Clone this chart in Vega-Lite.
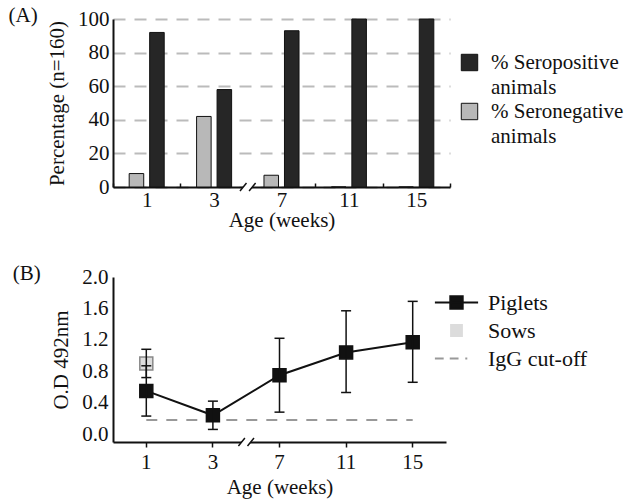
{
  "$schema": "https://vega.github.io/schema/vega-lite/v6.json",
  "background": "white",
  "padding": {"left": 8, "top": 5, "right": 0, "bottom": 5},
  "spacing": 33,
  "resolve": {"scale": {"color": "independent", "x": "independent", "y": "independent"}, "legend": {"color": "independent"}},
  "config": {
    "font": "Liberation Serif",
    "view": {"stroke": null},
    "axis": {
      "labelFont": "Liberation Serif", "titleFont": "Liberation Serif",
      "labelFontSize": 21, "titleFontSize": 21, "titleFontWeight": "normal",
      "labelColor": "#111", "titleColor": "#111",
      "domainColor": "#111", "domainWidth": 2, "tickColor": "#111", "tickWidth": 1.5
    },
    "legend": {"labelFont": "Liberation Serif", "labelFontSize": 21, "labelColor": "#111"},
    "title": {"font": "Liberation Serif", "fontSize": 21, "fontWeight": "normal", "anchor": "start", "frame": "bounds", "color": "#111"}
  },
  "vconcat": [
    {
      "title": {"text": "(A)", "dx": -38, "dy": 18, "offset": 0},
      "width": 337,
      "height": 168,
      "data": {"values": [
        {"age": "1", "group": "% Seropositive animals", "pct": 92},
        {"age": "1", "group": "% Seronegative animals", "pct": 8},
        {"age": "3", "group": "% Seropositive animals", "pct": 58},
        {"age": "3", "group": "% Seronegative animals", "pct": 42},
        {"age": "7", "group": "% Seropositive animals", "pct": 93},
        {"age": "7", "group": "% Seronegative animals", "pct": 7},
        {"age": "11", "group": "% Seropositive animals", "pct": 100},
        {"age": "11", "group": "% Seronegative animals", "pct": 0},
        {"age": "15", "group": "% Seropositive animals", "pct": 100},
        {"age": "15", "group": "% Seronegative animals", "pct": 0}
      ]},
      "layer": [
        {
          "mark": {"type": "bar", "stroke": "#111", "strokeWidth": 1},
          "encoding": {
            "x": {"field": "age", "type": "ordinal", "sort": ["1", "3", "7", "11", "15"],
              "scale": {"paddingInner": 0, "paddingOuter": 0},
              "axis": {"title": "Age (weeks)", "labelAngle": 0, "tickBand": "extent", "tickSize": -4, "labelPadding": 6, "titlePadding": -1}},
            "xOffset": {"field": "group", "sort": ["% Seronegative animals", "% Seropositive animals"],
              "scale": {"paddingInner": 0.29, "paddingOuter": 0.79}},
            "y": {"field": "pct", "type": "quantitative", "scale": {"domain": [0, 100]},
              "axis": {"title": "Percentage (n=160)", "values": [0, 20, 40, 60, 80, 100], "grid": true, "gridDash": [12, 9], "gridColor": "#bbbbbb", "gridWidth": 2, "ticks": false, "labelPadding": 4, "titlePadding": 10}},
            "color": {"field": "group", "type": "nominal",
              "scale": {"domain": ["% Seropositive animals", "% Seronegative animals"], "range": ["#262626", "#b8b8b8"]},
              "legend": {"orient": "none", "legendX": 346, "legendY": 33, "title": null, "symbolType": "square", "symbolSize": 270,
                "symbolStrokeColor": "#111", "symbolStrokeWidth": 1, "labelOffset": 11, "labelBaseline": "top", "rowPadding": 2, "labelLimit": 300,
                "labelFont": "Liberation Serif", "labelFontSize": 21,
                "labelExpr": "datum.value == '% Seropositive animals' ? ['% Seropositive', ' animals'] : ['% Seronegative', 'animals']",
                "encode": {"labels": {"update": {"font": {"value": "Liberation Serif"}, "dy": {"value": -11}, "lineHeight": {"value": 25}}}}}}
          }
        },
        {
          "data": {"values": [{"age": "3"}]},
          "mark": {"type": "point", "filled": true, "fill": "white", "strokeWidth": 0, "opacity": 1, "size": 676,
            "shape": "M-0.6,0.3L-0.1,-0.3L0.6,-0.3L0.1,0.3Z"},
          "encoding": {"x": {"field": "age", "type": "ordinal", "sort": ["1", "3", "7", "11", "15"], "bandPosition": 1}, "y": {"value": "height"}}
        },
        {
          "data": {"values": [{"age": "3"}]},
          "mark": {"type": "point", "filled": false, "stroke": "#111", "strokeWidth": 1.5, "opacity": 1, "size": 676,
            "shape": "M-0.6,0.3L-0.1,-0.3M0.1,0.3L0.6,-0.3"},
          "encoding": {"x": {"field": "age", "type": "ordinal", "sort": ["1", "3", "7", "11", "15"], "bandPosition": 1}, "y": {"value": "height"}}
        }
      ]
    },
    {
      "title": {"text": "(B)", "dx": -38, "dy": 18, "offset": 0},
      "width": 333,
      "height": 165,
      "layer": [
        {
          "data": {"values": [
            {"age": "1", "series": "IgG cut-off", "od": 0.18},
            {"age": "15", "series": "IgG cut-off", "od": 0.18}
          ]},
          "mark": {"type": "line", "strokeDash": [11, 9], "strokeWidth": 2},
          "encoding": {
            "x": {"field": "age", "type": "ordinal", "sort": ["1", "3", "7", "11", "15"]},
            "y": {"field": "od", "type": "quantitative"},
            "color": {"field": "series", "type": "nominal"}
          }
        },
        {
          "data": {"name": "od"},
          "transform": [{"filter": "datum.series === 'Piglets'"}],
          "mark": {"type": "line", "color": "#111", "strokeWidth": 2},
          "encoding": {
            "x": {"field": "age", "type": "ordinal", "sort": ["1", "3", "7", "11", "15"]},
            "y": {"field": "od", "type": "quantitative"}
          }
        },
        {
          "data": {"name": "od"},
          "mark": {"type": "point", "shape": "square", "filled": true, "size": 169, "opacity": 1, "strokeWidth": 1.5},
          "encoding": {
            "x": {"field": "age", "type": "ordinal", "sort": ["1", "3", "7", "11", "15"]},
            "y": {"field": "od", "type": "quantitative"},
            "color": {"field": "series", "type": "nominal"},
            "stroke": {"condition": {"test": "datum.series === 'Sows'", "value": "#888"}, "value": "#111"}
          }
        },
        {
          "data": {"name": "od"},
          "mark": {"type": "rule", "color": "#111", "strokeWidth": 1.5},
          "encoding": {
            "x": {"field": "age", "type": "ordinal", "sort": ["1", "3", "7", "11", "15"]},
            "y": {"field": "lo", "type": "quantitative"},
            "y2": {"field": "hi"}
          }
        },
        {
          "data": {"name": "od"},
          "mark": {"type": "tick", "color": "#111", "thickness": 1.5, "size": 10, "orient": "horizontal", "opacity": 1},
          "encoding": {
            "x": {"field": "age", "type": "ordinal", "sort": ["1", "3", "7", "11", "15"]},
            "y": {"field": "lo", "type": "quantitative"}
          }
        },
        {
          "data": {"name": "od"},
          "mark": {"type": "tick", "color": "#111", "thickness": 1.5, "size": 10, "orient": "horizontal", "opacity": 1},
          "encoding": {
            "x": {"field": "age", "type": "ordinal", "sort": ["1", "3", "7", "11", "15"]},
            "y": {"field": "hi", "type": "quantitative"}
          }
        },
        {
          "data": {"values": [{"age": "3"}]},
          "mark": {"type": "point", "filled": true, "fill": "white", "strokeWidth": 0, "opacity": 1, "size": 676,
            "shape": "M-0.6,0.3L-0.1,-0.3L0.6,-0.3L0.1,0.3Z"},
          "encoding": {"x": {"field": "age", "type": "ordinal", "sort": ["1", "3", "7", "11", "15"], "bandPosition": 1}, "y": {"value": "height"}}
        },
        {
          "data": {"values": [{"age": "3"}]},
          "mark": {"type": "point", "filled": false, "stroke": "#111", "strokeWidth": 1.5, "opacity": 1, "size": 676,
            "shape": "M-0.6,0.3L-0.1,-0.3M0.1,0.3L0.6,-0.3"},
          "encoding": {"x": {"field": "age", "type": "ordinal", "sort": ["1", "3", "7", "11", "15"], "bandPosition": 1}, "y": {"value": "height"}}
        }
      ],
      "encoding": {
        "x": {"field": "age", "type": "ordinal", "sort": ["1", "3", "7", "11", "15"],
          "scale": {"paddingInner": 0, "paddingOuter": 0},
          "axis": {"title": "Age (weeks)", "labelAngle": 0, "tickSize": 5, "labelPadding": 4, "titlePadding": 4}},
        "y": {"type": "quantitative",
          "scale": {"domain": [-0.1, 2.0], "nice": false, "zero": false},
          "axis": {"title": "O.D 492nm", "values": [0, 0.4, 0.8, 1.2, 1.6, 2.0], "format": ".1f", "grid": false, "ticks": false, "labelPadding": 5, "titlePadding": 10}},
        "color": {"type": "nominal",
          "scale": {"domain": ["Piglets", "Sows", "IgG cut-off"], "range": ["#111111", "#dcdcdc", "#999999"]},
          "legend": {"orient": "none", "legendX": 329, "legendY": 11, "title": null, "symbolSize": 729, "labelOffset": 17, "rowPadding": 2, "labelLimit": 300,
            "labelFont": "Liberation Serif", "labelFontSize": 22,
            "encode": {
              "labels": {"update": {"font": {"value": "Liberation Serif"}}},
              "symbols": {"update": {
              "shape": {"signal": "datum.value === 'Piglets' ? 'M-1.6,0H1.6M-0.46,-0.46H0.46V0.46H-0.46Z' : datum.value === 'Sows' ? 'M-0.4,-0.4H0.4V0.4H-0.4Z' : 'M-1.6,0H-0.95M-0.5,0H0.15M0.65,0H0.8'"},
              "fill": {"signal": "datum.value === 'Piglets' ? '#111111' : datum.value === 'Sows' ? '#dcdcdc' : 'transparent'"},
              "stroke": {"signal": "datum.value === 'Piglets' ? '#111111' : datum.value === 'Sows' ? '#888888' : '#999999'"},
              "strokeWidth": {"value": 2},
              "opacity": {"value": 1}
            }}}}
        }
      }
    }
  ],
  "datasets": {
    "od": [
      {"age": "1", "series": "Piglets", "od": 0.55, "lo": 0.23, "hi": 0.87},
      {"age": "3", "series": "Piglets", "od": 0.24, "lo": 0.06, "hi": 0.42},
      {"age": "7", "series": "Piglets", "od": 0.75, "lo": 0.28, "hi": 1.22},
      {"age": "11", "series": "Piglets", "od": 1.04, "lo": 0.53, "hi": 1.57},
      {"age": "15", "series": "Piglets", "od": 1.17, "lo": 0.66, "hi": 1.69},
      {"age": "1", "series": "Sows", "od": 0.9, "lo": 0.72, "hi": 1.08}
    ]
  }
}
